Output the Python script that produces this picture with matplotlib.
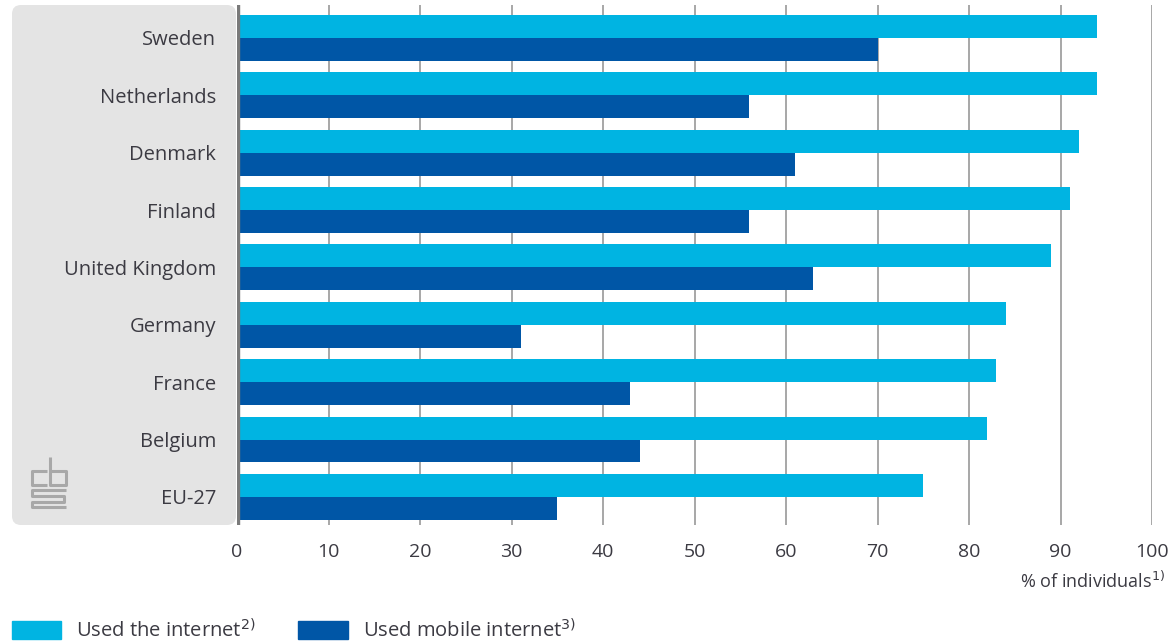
import numpy as np
import matplotlib.pyplot as plt
from matplotlib.patches import FancyBboxPatch, Patch
from matplotlib.lines import Line2D

countries = ['Sweden', 'Netherlands', 'Denmark', 'Finland', 'United Kingdom',
             'Germany', 'France', 'Belgium', 'EU-27']
internet = [94, 94, 92, 91, 89, 84, 83, 82, 75]
mobile = [70, 56, 61, 56, 63, 31, 43, 44, 35]
xticks = [0, 10, 20, 30, 40, 50, 60, 70, 80, 90, 100]

c_light = '#00b4e2'
c_dark = '#0056a6'
txt = '#3b3a42'

plt.rcParams['font.family'] = ['Open Sans', 'DejaVu Sans']

fig = plt.figure(figsize=(11.74, 6.44), dpi=100)

# grey panel behind the category labels
panel = FancyBboxPatch((0.12, 1.19), 2.24, 5.20, boxstyle='round,pad=0,rounding_size=0.09',
                       transform=fig.dpi_scale_trans, facecolor='#e4e4e4', edgecolor='none', zorder=-5)
fig.patches.append(panel)

ax = fig.add_axes([237/1174, 119/644, (1152-237)/1174, 520/644])
ax.patch.set_alpha(0)
ax.set_zorder(2)

pos = np.arange(len(countries))[::-1].astype(float)
h = 0.4
ax.barh(pos + h/2, internet, height=h, color=c_light, zorder=2)
ax.barh(pos - h/2, mobile, height=h, color=c_dark, zorder=2)
ax.axvline(0, color='#7a7a7a', lw=4.6, zorder=3)

ax.set_xlim(0, 100)
ax.set_ylim(-0.49, 8.575)
ax.set_xticks(xticks)
ax.set_yticks(pos)
ax.set_yticklabels(countries)
ax.tick_params(axis='x', length=0, pad=13, labelsize=14, labelcolor=txt)
ax.tick_params(axis='y', length=0, pad=15, labelsize=14.5, labelcolor=txt)
for lab in ax.get_yticklabels():
    lab.set_fontweight('medium')
ax.grid(axis='x', color='#a0a0a0', lw=1.3, zorder=1)
ax.set_axisbelow(True)
for s in ax.spines.values():
    s.set_visible(False)

fig.text(1165/1174, 1 - 581/644, r'% of individuals$^{1)}$', ha='right', va='center',
         fontsize=13, color=txt)

# cbs logo, rough sketch
lx, ly = 0.32, 1.37
logo = dict(color='#a8a8a8', lw=2.2, transform=fig.dpi_scale_trans, solid_capstyle='butt')
segs = [
    ([0.15, 0.0, 0.0, 0.15], [0.36, 0.36, 0.22, 0.22]),
    ([0.18, 0.18, 0.34, 0.34, 0.18], [0.50, 0.22, 0.22, 0.36, 0.36]),
    ([0.34, 0.0, 0.0, 0.32, 0.32, 0.0, 0.0, 0.34], [0.17, 0.17, 0.11, 0.11, 0.05, 0.05, 0.0, 0.0]),
]
for xs, ys in segs:
    fig.add_artist(Line2D(np.array(xs) + lx, np.array(ys) + ly, **logo))

handles = [Patch(color=c_light), Patch(color=c_dark)]
labels = [r'Used the internet$^{2)}$', r'Used mobile internet$^{3)}$']
fig.legend(handles, labels, loc='lower left', bbox_to_anchor=(12/1174, 2/644), ncol=2,
           frameon=False, fontsize=14.5, handlelength=2.45, handleheight=1.0,
           handletextpad=0.75, columnspacing=2.1, labelcolor=txt,
           borderpad=0, borderaxespad=0)

fig.savefig('out.png', dpi=100)
